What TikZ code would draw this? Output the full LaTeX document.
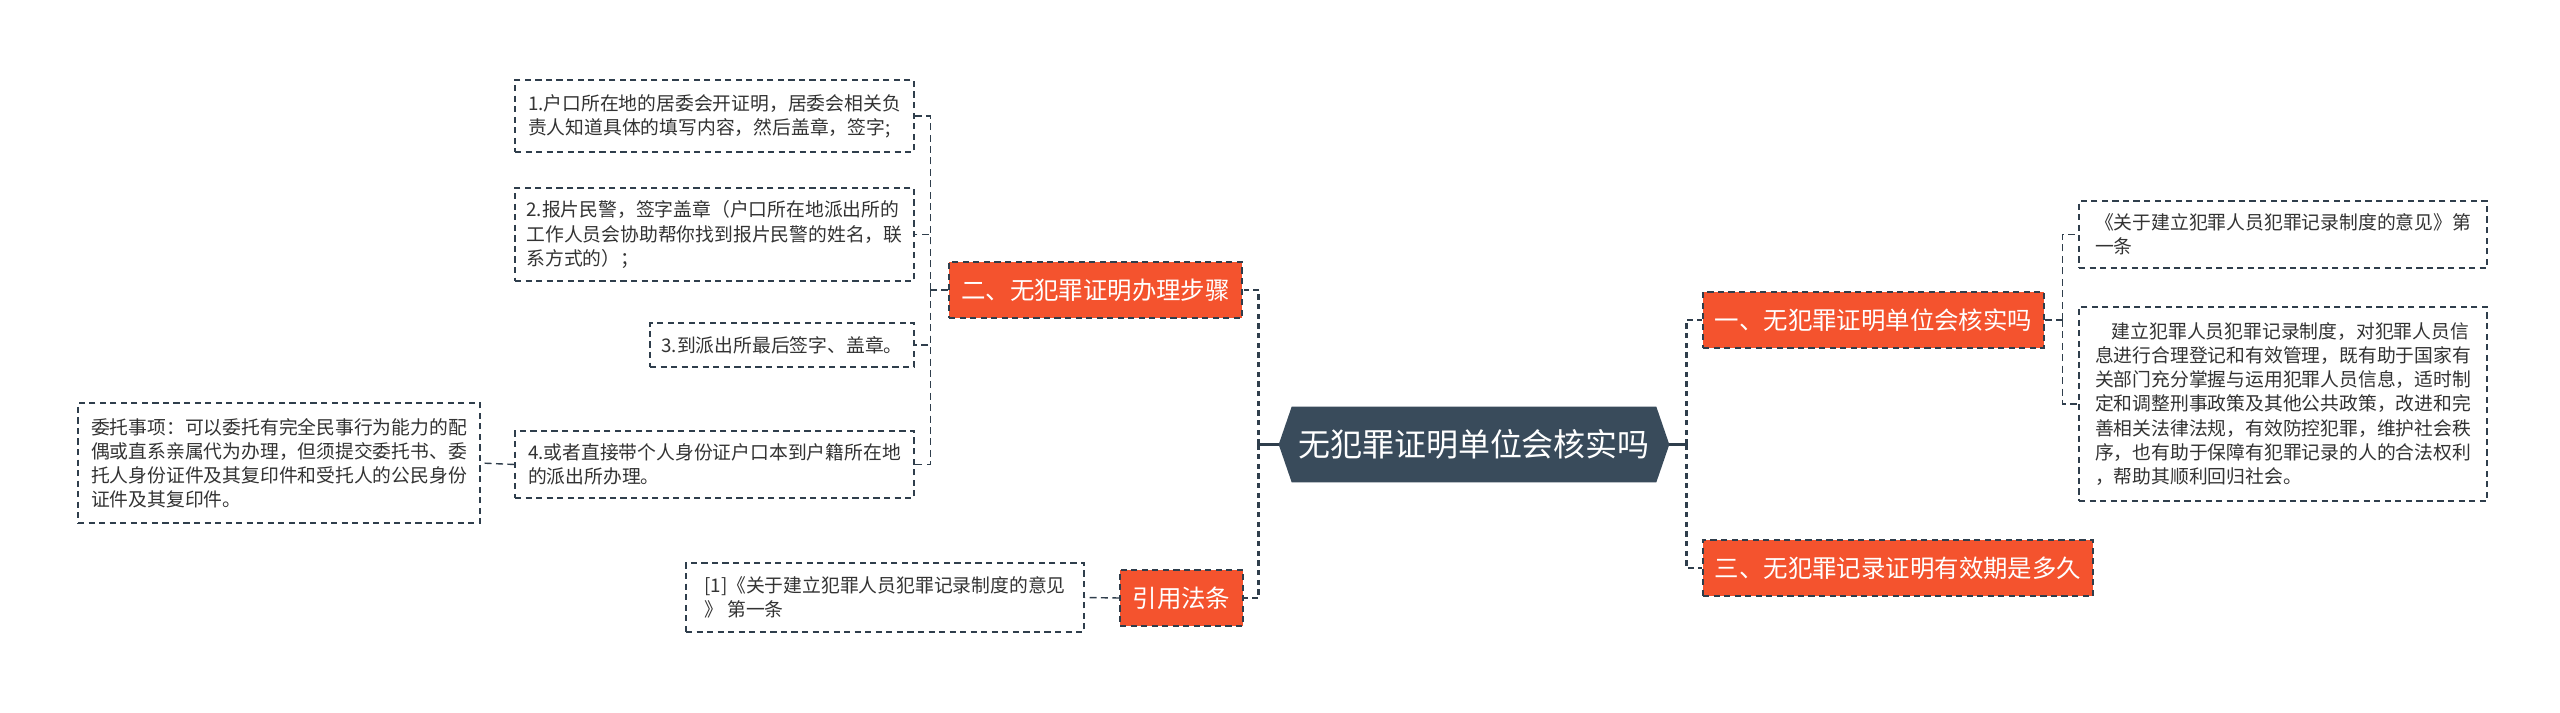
\documentclass[tikz,border=0pt]{standalone}
\usepackage{fontspec}
\setmainfont{Noto Sans CJK SC}
\usepackage{xcolor}
\usetikzlibrary{backgrounds}

\definecolor{linec}{HTML}{2F3E4C}
\definecolor{orangec}{HTML}{F4532E}
\definecolor{rootc}{HTML}{394B5B}
\definecolor{leaftext}{HTML}{333333}

\tikzset{
  leaf/.style={draw=linec, dash pattern=on 3.5pt off 2.5pt, line width=0.7pt, fill=white, text=leaftext, align=left, inner sep=0pt, font=\fontsize{10.7pt}{13.7pt}\selectfont},
  topic/.style={draw=linec, dash pattern=on 3.5pt off 2.5pt, line width=0.7pt, fill=orangec, text=white, inner sep=0pt, minimum height=1.12cm, font=\fontsize{13.9pt}{16pt}\selectfont},
  rootbox/.style={text=white, inner sep=0pt, minimum width=7.8cm, minimum height=1.5cm, font=\fontsize{18.2pt}{20pt}\selectfont},
  trunk/.style={draw=linec, line width=1.4pt, dash pattern=on 3pt off 2.5pt},
  branch/.style={draw=linec, line width=0.8pt, dash pattern=on 4pt off 2.5pt},
  stub/.style={draw=linec, line width=1.4pt}
}

\begin{document}
\begin{tikzpicture}[x=0.02cm, y=-0.02cm]
\useasboundingbox (0,0) rectangle (2560,713);

% root
\node [rootbox] (root) at (1474,444.5) {无犯罪证明单位会核实吗};
\begin{scope}[on background layer]
\fill [rootc] (root.west) -- ([xshift=0.26cm]root.north west) -- ([xshift=-0.26cm]root.north east) -- (root.east) -- ([xshift=-0.26cm]root.south east) -- ([xshift=0.26cm]root.south west) -- cycle;
\end{scope}

% topics
\node [topic, minimum width=5.86cm] (n2) at (1095.5,290) {二、无犯罪证明办理步骤};
\node [topic, minimum width=2.46cm] (ncite) at (1181.5,598) {引用法条};
\node [topic, minimum width=6.82cm] (n1) at (1873.5,320) {一、无犯罪证明单位会核实吗};
\node [topic, minimum width=7.8cm] (n3) at (1898,568) {三、无犯罪记录证明有效期是多久};

% leaves left
\node [leaf, minimum width=7.98cm, minimum height=1.44cm] (l1) at (714.5,116) {1.户口所在地的居委会开证明，居委会相关负\\责人知道具体的填写内容，然后盖章，签字;};
\node [leaf, minimum width=7.98cm, minimum height=1.86cm] (l2) at (714.5,234.5) {2.报片民警，签字盖章（户口所在地派出所的\\工作人员会协助帮你找到报片民警的姓名，联\\系方式的）；};
\node [leaf, minimum width=5.28cm, minimum height=0.88cm] (l3) at (782,345) {3.到派出所最后签字、盖章。};
\node [leaf, minimum width=7.98cm, minimum height=1.34cm] (l4) at (714.5,464.5) {4.或者直接带个人身份证户口本到户籍所在地\\的派出所办理。};
\node [leaf, minimum width=8.04cm, minimum height=2.4cm] (lproxy) at (279,463) {委托事项：可以委托有完全民事行为能力的配\\偶或直系亲属代为办理，但须提交委托书、委\\托人身份证件及其复印件和受托人的公民身份\\证件及其复印件。};
\node [leaf, minimum width=7.96cm, minimum height=1.38cm] (lref) at (885,597.5) {[1]《关于建立犯罪人员犯罪记录制度的意见\\》 第一条};

% leaves right
\node [leaf, minimum width=8.16cm, minimum height=1.34cm] (ra) at (2283,234.5) {《关于建立犯罪人员犯罪记录制度的意见》第\\一条};
\node [leaf, minimum width=8.16cm, minimum height=3.88cm] (rb) at (2283,404) {\hspace*{0.9em}建立犯罪人员犯罪记录制度，对犯罪人员信\\息进行合理登记和有效管理，既有助于国家有\\关部门充分掌握与运用犯罪人员信息，适时制\\定和调整刑事政策及其他公共政策，改进和完\\善相关法律法规，有效防控犯罪，维护社会秩\\序，也有助于保障有犯罪记录的人的合法权利\\，帮助其顺利回归社会。};

% main connectors
\path (root.west) ++(-20,0) coordinate (lhub);
\path (root.east) ++(17,0) coordinate (rhub);
\draw [stub] (root.west) -- (lhub);
\draw [stub] (root.east) -- (rhub);
\draw [trunk] (lhub) |- (n2.east);
\draw [trunk] (lhub) |- (ncite.east);
\draw [trunk] (rhub) |- (n1.west);
\draw [trunk] (rhub) |- (n3.west);

% sub connectors
\path (n2.west) ++(-18,0) coordinate (n2hub);
\draw [branch] (n2.west) -- (n2hub);
\foreach \leaf in {l1,l2,l3,l4}
  \draw [branch] (n2hub) |- (\leaf.east);
\draw [branch] (l4.west) -- (lproxy.east);
\draw [branch] (ncite.west) -- (lref.east);
\path (n1.east) ++(18,0) coordinate (n1hub);
\draw [branch] (n1.east) -- (n1hub);
\foreach \leaf in {ra,rb}
  \draw [branch] (n1hub) |- (\leaf.west);
\end{tikzpicture}
\end{document}
